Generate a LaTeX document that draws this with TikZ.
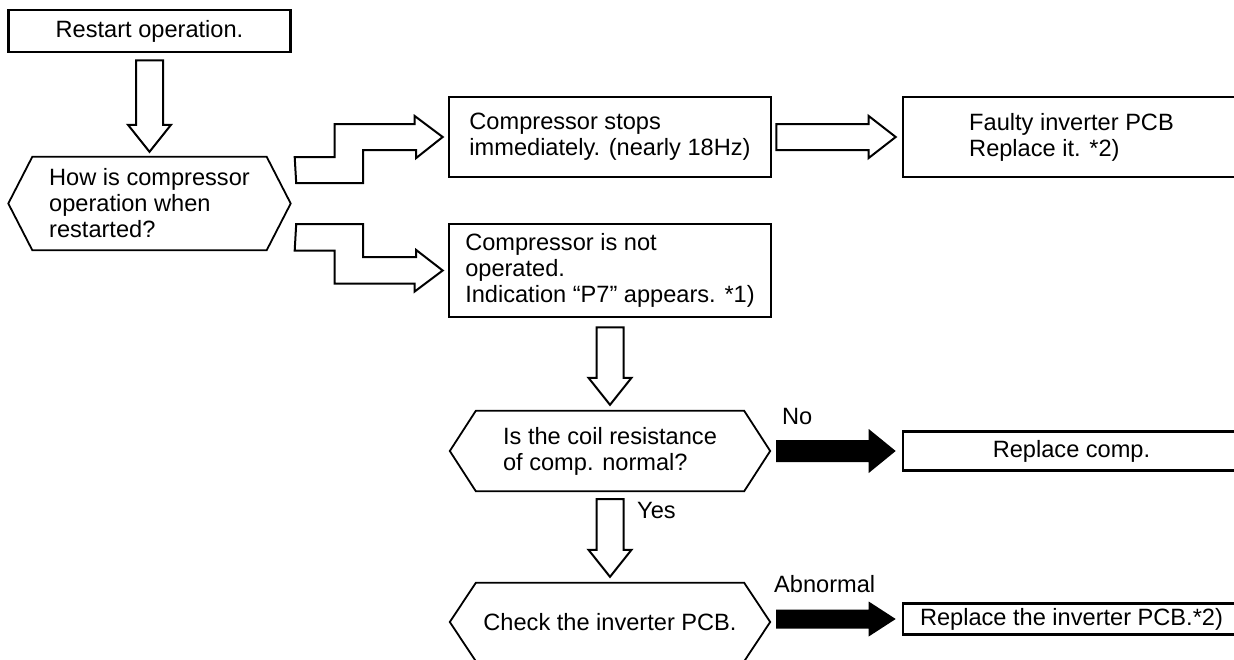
\documentclass[tikz,border=0pt]{standalone}
\usepackage{fontspec}
\setmainfont{Liberation Sans}
\usetikzlibrary{calc}

\begin{document}
\begin{tikzpicture}[x=1pt,y=1pt,font=\fontsize{23.6}{26}\selectfont]
\tikzstyle{box}=[draw,line width=2.6pt,inner sep=0pt,align=left]
\tikzstyle{hexa}=[inner sep=0pt,align=left]
\tikzstyle{hexline}=[line width=1.8pt,line join=miter]
\tikzstyle{hollow}=[draw,line width=2pt,fill=white,line join=miter]
\tikzstyle{filled}=[fill=black]
\useasboundingbox (0,0) rectangle (1234,-659);

\node[box,minimum width=282pt,minimum height=42pt] (restart) at (149.5,-31) {Restart operation.};
\node[hexa,minimum width=234pt,minimum height=93pt] (how) at (149.5,-203.5) {How is compressor\\ operation when\\ restarted?};
\node[box,minimum width=322pt,minimum height=80pt] (stops) at (610,-137) {Compressor stops\\ immediately. (nearly 18Hz)};
\node[box,minimum width=337pt,minimum height=80pt] (faulty) at (1071.5,-137) {Faulty inverter PCB\\ Replace it. *2)};
\node[box,minimum width=322pt,minimum height=93pt] (notop) at (610,-270.5) {Compressor is not\\ operated.\\ Indication “P7” appears. *1)};
\node[hexa,minimum width=268pt,minimum height=80pt] (coil) at (610,-451) {Is the coil resistance\\ of comp. normal?};
\node[box,minimum width=337pt,minimum height=39pt] (comp) at (1071.5,-451) {Replace comp.};
\node[hexa,minimum width=268pt,minimum height=78pt] (check) at (610,-622) {Check the inverter PCB.};
\node[box,minimum width=337pt,minimum height=31pt] (pcb) at (1071.5,-619) {Replace the inverter PCB.*2)};

% hexagon outlines
\draw[hexline] (how.north west) -- (how.north east) -- ($(how.east)+(24,0)$) -- (how.south east) -- (how.south west) -- ($(how.west)+(-24,0)$) -- cycle;
\draw[hexline] (coil.north west) -- (coil.north east) -- ($(coil.east)+(26,0)$) -- (coil.south east) -- (coil.south west) -- ($(coil.west)+(-26,0)$) -- cycle;
\draw[hexline] (check.north west) -- (check.north east) -- ($(check.east)+(26,0)$) -- (check.south east) -- (check.south west) -- ($(check.west)+(-26,0)$) -- cycle;

% hollow block arrows
\coordinate (t1) at ($(how.north)+(0,5)$);
\draw[hollow] ($(restart.south)+(-13.5,-7)$) -- ++(27,0) -- ($(t1)+(13.5,27)$) -- ++(8,0) -- (t1) -- ++(-21.5,27) -- ++(8,0) -- cycle;
\draw[hollow] ($(how.east)+(29.5,20.5)$) -- ++(67,0) -- ++(0,33) -- ++(53,0) -- ++(0,-8) -- ($(stops.west)+(-5,0)$) -- ++(-28,21) -- ++(0,-8) -- ++(-80,0) -- ++(0,-33) -- ++(-40,0) -- cycle;
\draw[hollow] ($(how.east)+(29.5,-20.5)$) -- ++(67,0) -- ++(0,-33) -- ++(53,0) -- ++(0,7) -- ($(notop.west)+(-5,0)$) -- ++(-28,-21) -- ++(0,8) -- ++(-80,0) -- ++(0,33) -- ++(-40,0) -- cycle;
\draw[hollow] ($(stops.east)+(4,13)$) -- ($(faulty.west)+(-33,13)$) -- ++(0,8) -- ($(faulty.west)+(-6,0)$) -- ++(-27,-21) -- ++(0,8) -- ($(stops.east)+(4,-13)$) -- cycle;
\coordinate (t2) at ($(coil.north)+(0,6)$);
\draw[hollow] ($(notop.south)+(-13.5,-9)$) -- ++(27,0) -- ($(t2)+(13.5,27)$) -- ++(8,0) -- (t2) -- ++(-21.5,27) -- ++(8,0) -- cycle;
\coordinate (t3) at ($(check.north)+(0,6)$);
\draw[hollow] ($(coil.south)+(-13.5,-8)$) -- ++(27,0) -- ($(t3)+(13.5,27)$) -- ++(8,0) -- (t3) -- ++(-21.5,27) -- ++(8,0) -- cycle;

% black arrows
\fill[filled] ($(coil.east)+(32,11)$) -- ($(comp.west)+(-33,11)$) -- ++(0,11) -- ($(comp.west)+(-6,0)$) -- ++(-27,-22) -- ++(0,11) -- ($(coil.east)+(32,-11)$) -- cycle;
\fill[filled] ($(check.east)+(32,12.5)$) -- ($(pcb.west)+(-33,9.5)$) -- ++(0,8) -- ($(pcb.west)+(-6,0)$) -- ++(-27,-17.5) -- ++(0,8) -- ($(check.east)+(32,-6.5)$) -- cycle;

% labels
\node[anchor=west,inner sep=0pt] (no) at (782,-416) {No};
\node[anchor=west,inner sep=0pt] (yes) at (637,-510) {Yes};
\node[anchor=west,inner sep=0pt] (abn) at (774,-584) {Abnormal};
\end{tikzpicture}
\end{document}
